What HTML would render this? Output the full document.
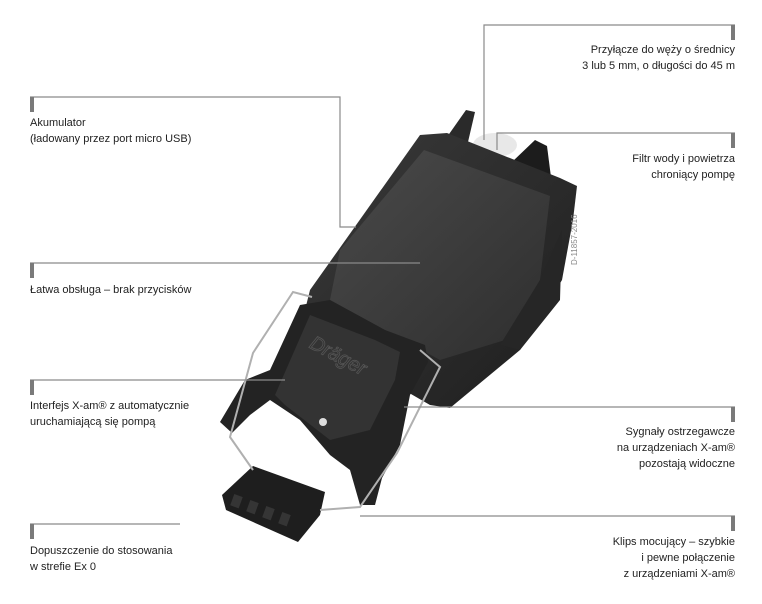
<!DOCTYPE html>
<html><head><meta charset="utf-8"><style>
body{margin:0;background:#fff}
#c{position:relative;width:762px;height:604px;overflow:hidden;font-family:"Liberation Sans",sans-serif;font-size:11px;color:#222;line-height:16px}
.t{position:absolute;white-space:nowrap}
.r{text-align:right}
svg{position:absolute;left:0;top:0}
</style></head><body><div id="c">
<svg width="762" height="604" viewBox="0 0 762 604">
<defs>
<linearGradient id="g1" x1="0" y1="0" x2="1" y2="1"><stop offset="0" stop-color="#3a3a3a"/><stop offset="1" stop-color="#1e1e1e"/></linearGradient>
<linearGradient id="g2" x1="0" y1="0" x2="1" y2="1"><stop offset="0" stop-color="#4a4a4a"/><stop offset="1" stop-color="#2e2e2e"/></linearGradient>
</defs>
<polygon points="447,137 466,110 475,112 468,142" fill="#2a2a2a"/>
<ellipse cx="495" cy="145" rx="22" ry="12" fill="#e8e8e8"/>
<polygon points="512,162 535,140 547,146 552,185 520,175" fill="#1c1c1c"/>
<polygon points="420,135 447,133 560,178 577,186 573,220 562,280 520,350 450,408 430,405 300,330 310,290" fill="url(#g1)"/>
<polygon points="424,150 550,196 540,280 505,340 440,360 330,300 340,250" fill="url(#g2)"/>
<polygon points="540,280 562,230 560,300 520,350 500,345" fill="#262626"/>
<polygon points="300,305 330,300 385,330 425,345 428,362 410,395 400,445 382,478 375,505 360,505 350,470 330,455 300,420 270,400 250,415 232,433 220,422 245,380 270,370" fill="#232323"/>
<polygon points="310,315 375,340 400,352 395,380 370,430 330,440 285,405 275,395" fill="#333"/>
<text x="300" y="360" transform="rotate(28 330 370)" font-family="Liberation Sans" font-size="20" fill="none" stroke="#555" stroke-width="0.8" font-style="italic">Dräger</text>
<circle cx="323" cy="422" r="4" fill="#ddd"/>
<polygon points="253,466 325,492 320,515 298,542 226,510 222,495" fill="#1e1e1e"/>
<g fill="#353535"><rect x="232" y="495" width="9" height="12" transform="rotate(20 236 501)"/><rect x="248" y="501" width="9" height="12" transform="rotate(20 252 507)"/><rect x="264" y="507" width="9" height="12" transform="rotate(20 268 513)"/><rect x="280" y="513" width="9" height="12" transform="rotate(20 284 519)"/></g>
<polyline points="312,297 293,292 253,353 230,437 253,470" fill="none" stroke="#b0b0b0" stroke-width="2"/>
<polyline points="420,350 440,367 397,453 360,507 320,510" fill="none" stroke="#b0b0b0" stroke-width="2"/>
<g stroke="#8a8a8a" stroke-width="1.2" fill="none">
<polyline points="30,97 340,97 340,227 356,227"/>
<polyline points="30,263 420,263"/>
<polyline points="30,380 285,380"/>
<polyline points="30,524 180,524"/>
<polyline points="735,25 484,25 484,140"/>
<polyline points="735,133 497,133 497,150"/>
<polyline points="735,407 404,407"/>
<polyline points="735,516 360,516"/>
</g>
<g fill="#7a7a7a">
<rect x="30" y="97" width="4" height="15"/><rect x="30" y="263" width="4" height="15"/><rect x="30" y="380" width="4" height="15"/><rect x="30" y="524" width="4" height="15"/>
<rect x="731" y="25" width="4" height="15"/><rect x="731" y="133" width="4" height="15"/><rect x="731" y="407" width="4" height="15"/><rect x="731" y="516" width="4" height="15"/>
</g>
<text x="577" y="265" transform="rotate(-90 577 265)" font-family="Liberation Sans" font-size="8" fill="#888">D-11857-2016</text>
</svg>
<div class="t" style="left:30px;top:115px">Akumulator<br>(ładowany przez port micro USB)</div>
<div class="t" style="left:30px;top:282px">Łatwa obsługa – brak przycisków</div>
<div class="t" style="left:30px;top:398px">Interfejs X-am® z automatycznie<br>uruchamiającą się pompą</div>
<div class="t" style="left:30px;top:543px">Dopuszczenie do stosowania<br>w strefie Ex 0</div>
<div class="t r" style="right:27px;top:42px">Przyłącze do węży o średnicy<br>3 lub 5 mm, o długości do 45 m</div>
<div class="t r" style="right:27px;top:151px">Filtr wody i powietrza<br>chroniący pompę</div>
<div class="t r" style="right:27px;top:424px">Sygnały ostrzegawcze<br>na urządzeniach X-am®<br>pozostają widoczne</div>
<div class="t r" style="right:27px;top:534px">Klips mocujący – szybkie<br>i pewne połączenie<br>z urządzeniami X-am®</div>
</div></body></html>
